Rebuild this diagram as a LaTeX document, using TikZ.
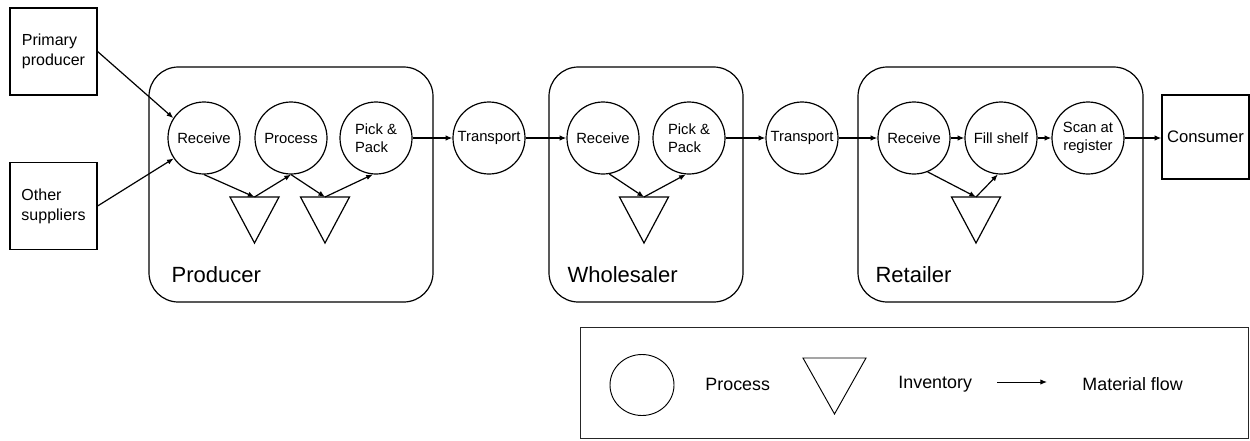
\documentclass[tikz,border=0pt]{standalone}
\usepackage{fontspec}
\setmainfont{Liberation Sans}
\usetikzlibrary{arrows.meta,shapes.geometric}

% inventory symbol: downward triangle hanging from a named top-centre coordinate
% #1 name, #2 x, #3 y of top edge, #4 half width, #5 height
\newcommand\invtri[5]{%
  \coordinate (#1) at (#2,#3);
  \draw[invshape] (#1) ++(-#4,0) -- ++(2*#4,0) -- ++(-#4,#5) -- cycle;}

\begin{document}
\begin{tikzpicture}[x=0.75pt,y=-0.75pt,
  line width=0.9pt,
  flow/.style={-{Latex[length=5pt,width=4pt]}},
  proc/.style={draw,circle,minimum size=54pt,inner sep=0pt,
    font=\fontsize{11.1}{13.5}\selectfont},
  party/.style={draw,rectangle,rounded corners=22pt,inner sep=0pt},
  partylabel/.style={anchor=base west,inner sep=0pt,
    font=\fontsize{16.5}{20}\selectfont},
  outside/.style={draw,rectangle,minimum width=65.25pt,minimum height=65.25pt,
    align=left,inner sep=0pt,font=\fontsize{12}{15}\selectfont},
  invshape/.style={draw,line join=miter},
  legendtext/.style={anchor=west,inner sep=0pt,font=\fontsize{13.4}{16}\selectfont}
]
\useasboundingbox (0,0) rectangle (1250,440);

% supply chain stages
\node[party,minimum width=213pt,minimum height=176.25pt] (producer) at (291,184.5) {};
\node[party,minimum width=145.5pt,minimum height=176.25pt] (wholesaler) at (646,184.5) {};
\node[party,minimum width=213.75pt,minimum height=176.25pt] (retailer) at (1000.5,184.5) {};
\node[partylabel] (producerlbl) at (171,282) {Producer};
\node[partylabel] (wholesalerlbl) at (567,282) {Wholesaler};
\node[partylabel] (retailerlbl) at (875,282) {Retailer};

% external parties
\node[outside] (primary) at (53.5,51.5) {Primary\\producer};
\node[outside] (other) at (53.5,206) {Other\\suppliers};
\node[draw,rectangle,minimum width=65.25pt,minimum height=63pt,inner sep=0pt,
  font=\fontsize{12.5}{15}\selectfont] (consumer) at (1205.5,137) {Consumer};

% processes
\node[proc] (prRecv) at (204,138) {Receive};
\node[proc] (prProc) at (291,138) {Process};
\node[proc,align=left] (prPick) at (376,138) {Pick \&\\Pack};
\node[proc] (tr1) at (489,138) {Transport};
\node[proc] (whRecv) at (603,138) {Receive};
\node[proc,align=left] (whPick) at (689,138) {Pick \&\\Pack};
\node[proc] (tr2) at (802,138) {Transport};
\node[proc] (rtRecv) at (914,138) {Receive};
\node[proc] (rtFill) at (1001,138) {Fill shelf};
\node[proc,align=center] (rtScan) at (1088,138) {Scan at\\register};

% inventories
\invtri{inv1}{254.5}{197}{24.5}{46}
\invtri{inv2}{325}{197}{24.5}{46}
\invtri{inv3}{644}{197}{24.5}{46}
\invtri{inv4}{976}{197}{24.5}{46}

% material flow
\draw[flow] (primary.east) -- (prRecv.147);
\draw[flow] (other.east) -- (prRecv.214);
\draw[flow] (prRecv.south) -- (inv1);
\draw[flow] (inv1) -- (prProc.south);
\draw[flow] (prProc.south) -- (inv2);
\draw[flow] (inv2) -- (prPick.265);
\draw[flow] (prPick.east) -- (tr1.west);
\draw[flow] (tr1.east) -- (whRecv.west);
\draw[flow] (whRecv.-80) -- (inv3);
\draw[flow] (inv3) -- (whPick.265);
\draw[flow] (whPick.east) -- (tr2.west);
\draw[flow] (tr2.east) -- (rtRecv.west);
\draw[flow] (rtRecv.east) -- (rtFill.west);
\draw[flow] (rtFill.east) -- (rtScan.west);
\draw[flow] (rtScan.east) -- (rtScan.east -| consumer.west);
\draw[flow] (rtRecv.-68) -- (inv4);
\draw[flow] (inv4) -- (rtFill.265);

% legend
\begin{scope}[line width=0.7pt]
\node[draw=black!85,rectangle,minimum width=501pt,minimum height=83.25pt,inner sep=0pt]
  (legend) at (914,382.5) {};
\node[draw,ellipse,minimum width=48pt,minimum height=45.75pt,inner sep=0pt]
  (legCircle) at (642,385) {};
\node[legendtext] (legProc) at (705,384) {Process};
\invtri{legInv}{834.5}{358}{31.5}{56}
\node[legendtext] (legInvTxt) at (898,384) {Inventory};
\coordinate (legA) at (997,382);
\coordinate (legB) at (1047,382);
\draw[flow] (legA) -- (legB);
\node[legendtext] (legFlow) at (1082,384) {Material flow};
\end{scope}
\end{tikzpicture}
\end{document}
